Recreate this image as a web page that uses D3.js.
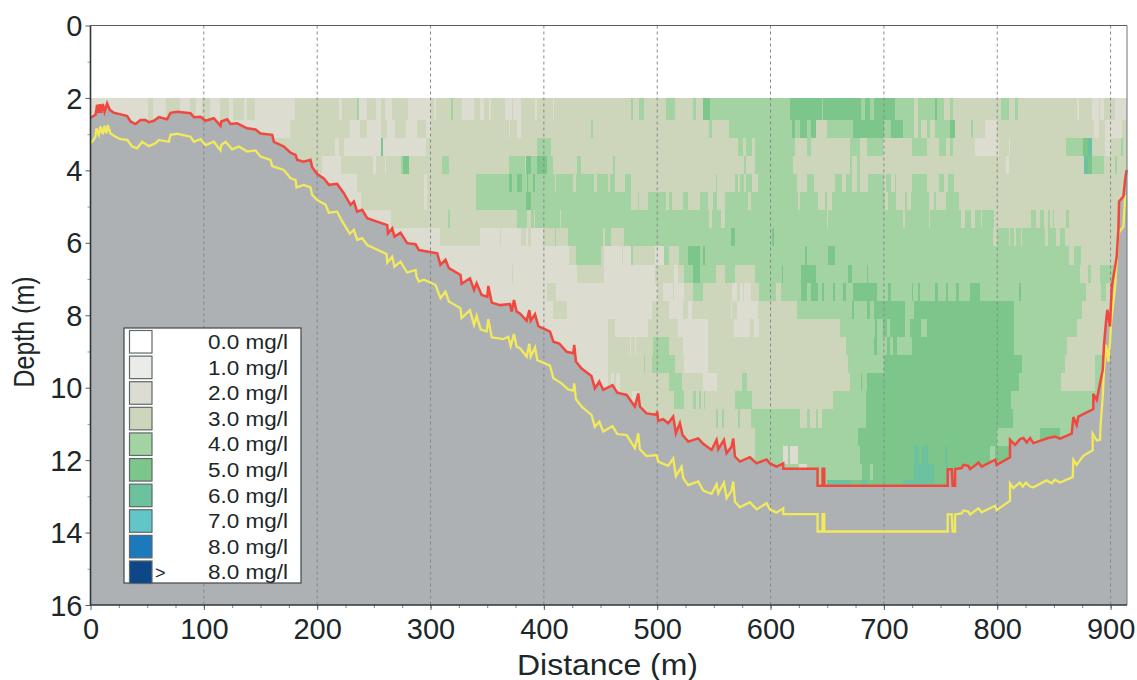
<!DOCTYPE html>
<html><head><meta charset="utf-8">
<style>html,body{margin:0;padding:0;background:#fff;overflow:hidden}svg{display:block}text{font-family:"Liberation Sans",Arial,sans-serif;fill:#1c2729}</style>
<script src="https://cdn.jsdelivr.net/npm/d3@7"></script></head><body><svg id="c" width="1137" height="680"></svg>
<script>
const levelLabels=["0.0 mg/l","1.0 mg/l","2.0 mg/l","3.0 mg/l","4.0 mg/l","5.0 mg/l","6.0 mg/l","7.0 mg/l","8.0 mg/l","8.0 mg/l"];
const levelColors=["#ffffff","#ebebe8","#dcdcd0","#cdd6bb","#a4d3a3","#7dc68b","#6cc29f","#62c5c8","#1c79bc","#0d4787"];
const depthEdges=[2,2.6,3.1,3.6,4.1,4.6,5.1,5.6,6.1,6.6,7.1,7.6,8.1,8.6,9.1,9.6,10.1,10.6,11.1,11.6,12.1,12.55,12.75];
const xTicksMajor=[0,100,200,300,400,500,600,700,800,900];
const yTicksMajor=[0,2,4,6,8,10,12,14,16];
const row00=[[0,2],[51,3],[55,2],[67,3],[79,2],[88,3],[93,2],[98,3],[105,2],[114,3],[122,2],[126,3],[135,2],[138,3],[145,2],[180,3],[219,2],[222,3],[235,4],[237,2],[244,3],[252,2],[256,3],[260,2],[266,3],[280,2],[300,3],[303,2],[305,3],[318,4],[320,3],[328,2],[338,3],[344,2],[347,3],[352,2],[353,3],[366,2],[372,3],[373,2],[380,3],[392,2],[394,3],[408,2],[409,3],[477,4],[479,3],[484,4],[488,3],[508,4],[516,3],[532,4],[534,3],[540,5],[547,4],[617,5],[645,4],[646,5],[680,4],[683,5],[688,4],[691,5],[710,4],[727,3],[730,4],[745,5],[747,4],[753,3],[758,4],[761,3],[803,4],[810,3],[816,4],[818,3],[870,2],[872,3],[884,2],[890,3],[891,2],[894,3],[904,2]];
const row01=[[0,2],[176,3],[229,2],[238,3],[244,2],[256,3],[262,2],[269,3],[278,2],[288,3],[296,2],[300,3],[369,2],[370,3],[376,2],[380,3],[442,4],[443,3],[546,4],[548,3],[563,4],[619,5],[622,4],[626,5],[632,4],[636,5],[640,3],[650,4],[673,5],[700,4],[706,5],[717,4],[727,3],[730,4],[733,3],[738,4],[741,3],[745,4],[758,5],[763,3],[777,4],[779,3],[789,2],[800,3],[885,2],[890,3],[895,2],[910,3]];
const row02=[[0,2],[156,3],[216,2],[219,3],[224,2],[256,5],[258,2],[296,3],[394,4],[406,3],[571,4],[576,3],[578,4],[584,3],[586,4],[622,3],[632,4],[636,3],[670,4],[679,3],[685,4],[699,3],[725,4],[738,3],[749,4],[755,3],[758,4],[761,3],[780,2],[802,3],[810,2],[811,3],[861,4],[876,5],[880,6],[884,3],[895,2],[900,3],[909,4],[911,3]];
const row03=[[0,3],[204,2],[221,3],[249,2],[252,3],[260,2],[261,3],[274,4],[276,5],[281,3],[310,4],[316,3],[369,4],[383,3],[384,5],[389,4],[394,5],[403,4],[408,3],[429,4],[433,3],[461,4],[463,3],[577,4],[578,3],[586,4],[620,3],[670,4],[672,3],[676,4],[679,3],[808,2],[810,3],[877,6],[880,5],[884,4],[894,3],[904,4],[906,3]];
const row04=[[0,2],[235,3],[294,2],[297,3],[340,4],[369,5],[372,4],[376,5],[381,4],[385,5],[386,4],[390,5],[392,4],[410,3],[411,4],[426,3],[428,4],[444,3],[447,4],[457,3],[458,4],[463,3],[472,4],[477,3],[552,4],[553,3],[569,4],[571,3],[573,4],[577,3],[578,4],[584,3],[589,4],[623,3],[632,4],[638,3],[657,4],[663,3],[667,4],[672,3],[676,4],[679,3],[686,4],[700,3],[702,4],[706,3],[710,4],[711,3],[725,4],[738,3],[749,4],[753,3],[757,4],[762,3]];
const row05=[[0,2],[239,3],[294,2],[297,3],[340,4],[384,5],[389,4],[477,3],[483,4],[484,3],[492,4],[508,3],[510,4],[513,3],[523,4],[527,3],[538,4],[545,3],[549,4],[553,3],[560,4],[580,3],[583,4],[624,3],[626,4],[642,3],[648,4],[650,3],[654,4],[701,3],[704,4],[711,3],[719,4],[720,3],[724,4],[740,3],[744,4],[746,3],[755,4],[766,3]];
const row06=[[0,2],[265,3],[315,4],[317,3],[376,4],[385,3],[389,4],[391,3],[392,4],[414,3],[415,4],[546,3],[548,4],[556,3],[560,4],[650,3],[651,4],[717,3],[719,4],[740,3],[741,4],[768,3],[772,4],[777,3],[780,4],[786,3],[787,4],[797,3],[830,4],[834,3],[838,4],[841,3],[845,4],[847,3],[849,4],[850,3],[861,4],[863,3]];
const row07=[[0,2],[308,3],[344,2],[361,3],[362,2],[380,3],[384,2],[386,3],[389,2],[399,3],[410,4],[411,3],[421,4],[452,3],[454,4],[459,3],[471,4],[565,5],[569,4],[601,5],[603,4],[796,3],[800,4],[810,3],[811,4],[815,3],[817,4],[821,3],[822,4],[842,3],[845,4],[852,3],[855,4],[860,3]];
const row08=[[0,2],[422,3],[428,4],[450,3],[453,2],[469,3],[470,2],[477,4],[479,3],[498,2],[506,4],[510,3],[519,4],[527,5],[538,4],[540,5],[542,4],[630,5],[632,4],[651,5],[657,4],[863,3],[868,4],[874,3]];
const row09=[[0,2],[372,3],[373,2],[429,3],[453,2],[498,3],[515,2],[518,3],[524,4],[532,5],[538,4],[552,3],[560,4],[569,3],[586,4],[610,5],[611,4],[627,5],[640,4],[668,5],[672,4],[685,5],[686,4],[873,3],[880,4],[883,3],[891,4]];
const row10=[[0,2],[403,3],[411,2],[501,3],[505,2],[514,3],[515,2],[524,3],[532,4],[540,3],[566,2],[570,3],[573,2],[576,3],[577,2],[583,3],[590,4],[605,3],[609,4],[627,5],[632,4],[636,5],[642,4],[645,5],[647,4],[655,5],[657,4],[664,5],[667,4],[673,5],[694,4],[704,5],[706,4],[725,5],[726,4],[730,5],[732,4],[745,5],[748,4],[755,5],[757,4],[764,5],[766,4],[776,5],[785,4],[819,5],[821,4],[878,3],[892,4],[896,3]];
const row11=[[0,2],[408,3],[420,2],[495,3],[510,2],[523,3],[527,2],[531,3],[565,2],[566,3],[570,2],[589,3],[623,4],[672,5],[674,4],[685,5],[688,4],[691,5],[719,4],[727,5],[815,4],[875,3]];
const row12=[[0,2],[457,3],[463,2],[492,3],[518,2],[545,3],[568,2],[582,3],[585,2],[590,3],[661,4],[692,5],[694,4],[699,5],[703,4],[705,5],[719,4],[723,5],[733,4],[738,5],[815,4],[870,3]];
const row13=[[0,2],[457,3],[476,2],[477,3],[480,2],[481,3],[496,4],[510,3],[523,2],[545,3],[667,4],[691,5],[694,4],[703,5],[705,4],[708,5],[712,4],[725,5],[815,4],[862,3]];
const row14=[[0,2],[457,3],[488,4],[489,3],[495,4],[516,3],[524,2],[545,3],[668,4],[700,5],[822,4],[860,3],[886,4]];
const row15=[[0,2],[457,3],[459,2],[462,3],[464,2],[467,3],[510,4],[522,3],[540,2],[553,3],[575,4],[579,3],[670,4],[680,5],[681,4],[685,5],[819,4],[856,3],[886,4]];
const row16=[[0,3],[478,2],[484,3],[515,4],[524,3],[532,4],[534,3],[537,4],[539,3],[541,4],[542,3],[569,4],[584,3],[655,4],[684,5],[812,4]];
const row17=[[0,3],[552,4],[554,3],[557,4],[559,3],[571,4],[573,3],[583,4],[626,3],[632,4],[635,3],[640,4],[642,3],[645,4],[684,5],[814,4]];
const row18=[[0,3],[586,4],[677,5],[800,4],[838,5],[855,4]];
const row19=[[0,3],[586,4],[611,2],[615,4],[617,2],[624,4],[679,5],[727,6],[731,5],[734,6],[739,5],[754,6],[756,5],[794,4],[798,5]];
const row20=[[0,4],[625,2],[632,4],[681,5],[688,4],[690,5],[727,6],[744,5],[755,6],[757,5]];
const row21=[[0,4],[650,6],[671,5],[680,6],[686,5],[717,6],[744,5]];
const concentrationRows=[row00,row01,row02,row03,row04,row05,row06,row07,row08,row09,row10,row11,row12,row13,row14,row15,row16,row17,row18,row19,row20,row21];
const bottomRed=[[0,2.55],[1.5,2.52],[4.4,2.47],[5.9,2.19],[7,2.42],[8.2,2.17],[9.4,2.41],[10.9,2.17],[12.4,2.38],[14.7,2.15],[17,2.33],[20.6,2.41],[25,2.44],[32.4,2.5],[35.3,2.65],[39.7,2.72],[44.1,2.61],[48.5,2.61],[51.5,2.67],[55.9,2.63],[60.3,2.53],[67.6,2.59],[70.6,2.41],[76.5,2.38],[88.2,2.42],[91.2,2.53],[97,2.52],[101.5,2.63],[108.8,2.56],[114.7,2.77],[115.3,2.65],[120.6,2.59],[123.5,2.72],[129.4,2.7],[138.2,2.84],[145.6,2.87],[150,2.98],[160.3,3.02],[161.8,3.21],[170.6,3.34],[176.5,3.51],[180.9,3.57],[182.4,3.71],[188.2,3.76],[194.1,3.71],[195.6,3.91],[200,4.1],[205.9,4.22],[210.3,4.4],[217.6,4.37],[223.5,4.63],[229.4,4.95],[232.4,4.86],[235.3,5.14],[239.7,5.09],[244.1,5.32],[261.8,5.51],[262.4,5.74],[266.2,5.6],[268.2,5.83],[273.5,5.72],[279.4,6.01],[286.8,6.04],[289.7,6.2],[305.9,6.29],[308.8,6.61],[313.2,6.47],[316.2,6.7],[326.5,6.89],[327.4,7.13],[334.8,6.98],[338.4,7.3],[340.7,7.12],[345.1,7.44],[350.1,7.49],[351,7.19],[354,7.65],[361.3,7.72],[370.1,7.69],[371.6,7.9],[373.6,7.58],[376,7.9],[378.9,7.95],[384.8,8.15],[387.2,7.86],[388.4,8.15],[392.2,7.97],[395.1,8.3],[405.4,8.45],[408.4,8.73],[413.6,8.78],[420.1,9.01],[425.9,9.05],[426.8,8.82],[428.3,9.28],[433.3,9.47],[442,9.68],[445,10.02],[448.9,9.83],[452.4,10.06],[460.6,9.93],[464.7,10.14],[473,10.2],[480.3,10.52],[483.3,10.16],[484.7,10.52],[490.6,10.71],[499.4,10.75],[500,10.66],[500.9,10.91],[505.3,10.87],[509.7,10.98],[514.1,10.8],[516.5,11.26],[520,10.98],[522.4,11.31],[527.4,11.49],[536.2,11.4],[540.6,11.55],[548,11.72],[552.4,11.44],[553.9,11.7],[558.9,11.44],[561.2,11.81],[565.6,11.63],[567.1,11.4],[568.6,11.9],[573,12.04],[581.8,11.92],[587.7,12.09],[596.5,11.98],[599.4,12.09],[605.3,12.18],[611.2,12.09],[611.2,12.24],[641.5,12.24],[641.5,12.71],[645.9,12.71],[645.9,12.24],[647.4,12.24],[647.4,12.71],[756.3,12.71],[756.3,12.25],[759.8,12.25],[760.7,12.71],[762.8,12.71],[762.8,12.25],[768.6,12.22],[770.1,12.13],[774.5,12.16],[776,12.25],[783.4,12.07],[786.3,12.18],[798.1,11.99],[799.5,12.13],[811.3,11.92],[811.3,11.44],[815.7,11.58],[820.1,11.42],[823.1,11.39],[826,11.51],[829,11.39],[831.9,11.53],[845.1,11.39],[851,11.35],[855.4,11.41],[865.7,11.27],[867.2,10.81],[870.1,11.03],[871.6,10.8],[884.8,10.59],[884.8,10.17],[887.8,10.34],[890.7,9.88],[893.1,9.51],[894.2,8.82],[896,8.17],[897.2,7.85],[899.5,8.31],[901,7.21],[904,6.66],[905.4,6.38],[906.9,5.64],[907.5,4.86],[911.3,4.72],[912.8,4.26],[914.2,3.99]];
const bottomYellow=[[0,3.24],[1.5,3.21],[4.4,3.07],[5.3,2.84],[7.4,3.02],[8.8,2.79],[10.9,3],[12.4,2.77],[14.1,2.98],[15.3,2.75],[17.6,2.98],[22.1,3.07],[26.5,3.14],[32.4,3.16],[36.8,3.34],[41.2,3.39],[45.6,3.21],[51.5,3.33],[57.4,3.25],[60.3,3.16],[69.1,3.21],[70.6,3.02],[76.5,2.99],[88.2,3.07],[91.2,3.21],[97.1,3.14],[101.5,3.3],[108.8,3.21],[114.7,3.45],[115.3,3.3],[119.1,3.21],[125,3.42],[130.9,3.34],[138.2,3.48],[145.6,3.45],[150,3.62],[158.8,3.71],[160.3,3.88],[170.6,3.99],[176.5,4.22],[180.9,4.26],[181.8,4.47],[188.2,4.4],[194.1,4.47],[195.6,4.68],[200,4.82],[207.4,4.95],[210.3,5.17],[217.6,5.14],[222.1,5.41],[228.8,5.75],[232.4,5.64],[235.3,5.92],[239.7,5.87],[244.1,6.06],[261.2,6.31],[261.8,6.55],[266.2,6.38],[268.2,6.66],[273.5,6.52],[279.4,6.82],[286.8,6.75],[287.6,6.93],[289.7,7.07],[294.1,7.02],[304.4,7.16],[308.8,7.53],[313.2,7.35],[316.2,7.62],[326.5,7.81],[327.4,8.08],[334.8,7.86],[338.4,8.27],[340.7,8.02],[344.2,8.39],[349.5,8.45],[351,8.11],[354,8.61],[364.2,8.66],[368.6,8.59],[370.7,8.85],[373.6,8.52],[376,8.87],[378.9,8.91],[384.8,9.14],[387.2,8.79],[388.4,9.14],[392.2,8.89],[394.2,9.24],[405.4,9.39],[408.4,9.74],[415.6,9.88],[421.5,10.05],[425.9,10.08],[426.8,9.88],[428.3,10.32],[433.3,10.52],[442,10.75],[445,11.08],[448.9,10.94],[452.4,11.21],[460.6,11.06],[464.7,11.28],[473,11.31],[480.3,11.67],[483.3,11.26],[484.7,11.7],[490.6,11.89],[499.4,11.86],[500.9,12.04],[509.7,12.16],[514.1,11.95],[516.5,12.44],[521.5,12.18],[523,12.5],[527.4,12.69],[536.2,12.59],[540.6,12.84],[548,12.93],[552.4,12.66],[553.9,12.92],[558.9,12.62],[561.2,13.05],[565.6,12.84],[567.1,12.59],[568.6,13.15],[573,13.3],[581.8,13.16],[587.7,13.36],[596.5,13.19],[599.4,13.36],[605.3,13.45],[611.2,13.33],[611.2,13.49],[641.5,13.49],[641.5,13.97],[645.9,13.97],[645.9,13.49],[647.4,13.49],[647.4,13.97],[756.3,13.97],[756.3,13.5],[759.8,13.5],[760.7,13.97],[762.8,13.97],[762.8,13.5],[768.6,13.47],[770.1,13.39],[774.5,13.42],[776,13.5],[783.4,13.33],[786.3,13.44],[798.1,13.26],[799.5,13.38],[811.3,13.12],[811.3,12.64],[814.2,12.77],[820.1,12.62],[822.5,12.73],[825.4,12.62],[829,12.73],[831.9,12.75],[843.6,12.56],[848.1,12.64],[851,12.54],[855.4,12.62],[866.6,12.47],[867.2,11.99],[870.1,12.13],[876,11.88],[884.2,11.73],[884.2,11.27],[887.8,11.46],[890.7,11.44],[891.3,10.98],[893.1,10.24],[894.2,9.51],[896,8.82],[898,9.28],[899.5,8.77],[900.4,8.22],[904,7.21],[906.9,5.74],[911.3,5.55],[912.8,4.72],[914.2,4.7]];

const xMax=914.5, yMax=16;
const svg=d3.select("#c");
const x=d3.scaleLinear().domain([0,xMax]).range([90.5,1127]);
const y=d3.scaleLinear().domain([0,yMax]).range([25.5,605]);
const gray="#adb1b3", frame="#2c3739", gridCol="#85888a";

const cellG=svg.append("g").attr("shape-rendering","crispEdges");
concentrationRows.forEach((runs,i)=>{
  cellG.append("g").selectAll("rect").data(runs).join("rect")
    .attr("x",d=>x(d[0]))
    .attr("width",(d,j)=>x(j+1<runs.length?runs[j+1][0]:xMax)-x(d[0]))
    .attr("y",y(depthEdges[i]))
    .attr("height",y(depthEdges[i+1])-y(depthEdges[i]))
    .attr("fill",d=>levelColors[d[1]]);
});
const area=d3.area().x(d=>x(d[0])).y1(d=>y(d[1])).y0(y(yMax));
svg.append("path").datum([...bottomRed,[xMax,bottomRed[bottomRed.length-1][1]]]).attr("d",area).attr("fill",gray);

svg.append("g").selectAll("line").data(xTicksMajor.slice(1)).join("line")
  .attr("x1",d=>x(d)).attr("x2",d=>x(d)).attr("y1",y(0)).attr("y2",y(yMax))
  .attr("stroke",gridCol).attr("stroke-width",1).attr("stroke-dasharray","3,3");

const line=d3.line().x(d=>x(d[0])).y(d=>y(d[1]));
svg.append("path").datum(bottomYellow).attr("d",line).attr("fill","none").attr("stroke","#f2ea5c").attr("stroke-width",2.3);
svg.append("path").datum(bottomRed).attr("d",line).attr("fill","none").attr("stroke","#f0483e").attr("stroke-width",2.5);

const minorX=d3.range(25,xMax,25);
const minorY=d3.range(1,16,2);
const axM=svg.append("g").attr("transform",`translate(0,${y(yMax)})`).call(d3.axisBottom(x).tickValues(minorX).tickSize(3).tickFormat(""));
axM.select(".domain").remove(); axM.selectAll("line").attr("stroke","#7b8385");
const ayM=svg.append("g").attr("transform",`translate(${x(0)},0)`).call(d3.axisLeft(y).tickValues(minorY).tickSize(3).tickFormat(""));
ayM.select(".domain").remove(); ayM.selectAll("line").attr("stroke","#9aa0a2");
const ax=svg.append("g").attr("transform",`translate(0,${y(yMax)})`).call(d3.axisBottom(x).tickValues(xTicksMajor).tickSize(5).tickFormat(d3.format("d")));
ax.select(".domain").remove(); ax.selectAll("line").attr("stroke","#555f61");
ax.selectAll("text").attr("y",13).attr("dy",0).attr("dominant-baseline","hanging").attr("font-size",29).attr("font-family","Liberation Sans").style("fill","#1c2729");
const ay=svg.append("g").attr("transform",`translate(${x(0)},0)`).call(d3.axisLeft(y).tickValues(yTicksMajor).tickSize(5));
ay.select(".domain").remove(); ay.selectAll("line").attr("stroke","#555f61");
ay.selectAll("text").attr("x",-8).attr("dy","0.35em").attr("font-size",29).attr("font-family","Liberation Sans").style("fill","#1c2729");

svg.append("path").attr("d",`M${x(0)},${y(0)}H${x(xMax)}`).attr("stroke","#555f61").attr("stroke-width",1).attr("fill","none");
svg.append("path").attr("d",`M${x(xMax)},${y(0)}V${y(yMax)}`).attr("stroke","#6a7476").attr("stroke-width",1).attr("fill","none");
svg.append("path").attr("d",`M${x(0)},${y(0)}V${y(yMax)}H${x(xMax)}`).attr("stroke",frame).attr("stroke-width",1.6).attr("fill","none");

svg.append("text").attr("x",607.5).attr("y",675).attr("text-anchor","middle").attr("font-size",29).attr("textLength",181).attr("lengthAdjust","spacingAndGlyphs").text("Distance (m)");
svg.append("text").attr("transform","translate(34,332) rotate(-90)").attr("text-anchor","middle").attr("font-size",29).attr("textLength",111).attr("lengthAdjust","spacingAndGlyphs").text("Depth (m)");

const boxL=124, boxR=301, boxT=328, boxB=583;
svg.append("rect").attr("x",boxL).attr("y",boxT).attr("width",boxR-boxL).attr("height",boxB-boxT).attr("fill","#fff").attr("stroke","#3e484a").attr("stroke-width",1.2);
const ly=d3.scaleBand().domain(d3.range(levelLabels.length)).range([boxT+2.5,boxB+0.5]).paddingInner(0.12).paddingOuter(0);
const lg=svg.append("g").selectAll("g").data(levelLabels).join("g").attr("transform",(d,i)=>`translate(0,${ly(i)})`);
lg.append("rect").attr("x",129.5).attr("width",22.5).attr("height",ly.bandwidth()).attr("fill",(d,i)=>levelColors[i]).attr("stroke","#5f686a").attr("stroke-width",1.2);
lg.append("text").attr("x",288).attr("y",ly.bandwidth()/2).attr("dy","0.36em").attr("text-anchor","end").attr("font-size",20).attr("textLength",80).attr("lengthAdjust","spacingAndGlyphs").text(d=>d);
svg.append("text").attr("x",155).attr("y",ly(9)+ly.bandwidth()/2).attr("dy","0.36em").attr("font-size",18).text(">");
</script></body></html>
